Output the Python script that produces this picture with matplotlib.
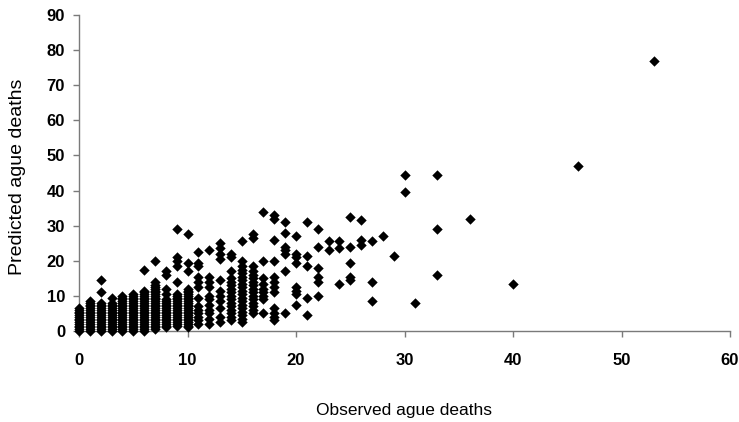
import matplotlib
matplotlib.use("Agg")
import matplotlib.pyplot as plt

# Predicted ague deaths, grouped by observed ague deaths
pred_0 = [0, 0.5, 1, 1.5, 2, 2.5, 3, 3.5, 4, 4.5, 5, 5.5, 6, 6.5]
pred_1 = [0, 0.5, 1, 1.5, 2, 2.5, 3, 3.5, 4, 4.5, 5, 5.5, 6, 6.5, 7, 7.5, 8, 8.5]
pred_2 = [0, 0.5, 1, 1.5, 2, 2.5, 3, 3.5, 4, 4.5, 5, 5.5, 6, 6.5, 7, 7.5, 8, 11, 14.5]
pred_3 = [0, 0.5, 1, 1.5, 2, 2.5, 3, 3.5, 4, 4.5, 5, 5.5, 6, 6.5, 7, 7.5, 8, 9.5]
pred_4 = [0, 0.5, 1, 1.5, 2, 2.5, 3, 3.5, 4, 4.5, 5, 5.5, 6, 6.5, 7, 7.5, 8, 8.5, 9, 9.5, 10]
pred_5 = [0, 0.5, 1, 1.5, 2, 2.5, 3, 3.5, 4, 4.5, 5, 5.5, 6, 6.5, 7, 7.5, 8, 8.5, 9, 9.5, 10, 10.5]
pred_6 = [0, 0.5, 1, 1.5, 2, 2.5, 3, 3.5, 4, 4.5, 5, 5.5, 6, 6.5, 7, 7.5, 8, 8.5, 9, 9.5, 10,
          10.5, 11, 11.5, 17.5]
pred_7 = [0.5, 1, 1.5, 2, 2.5, 3, 3.5, 4, 4.5, 5, 5.5, 6, 6.5, 7, 7.5, 8, 8.5, 9, 9.5, 10,
          10.5, 11, 11.5, 12, 12.5, 13, 14, 20]
pred_8 = [1, 1.5, 2, 2.5, 3, 3.5, 4, 4.5, 5, 5.5, 6, 6.5, 7, 7.5, 8, 8.5, 9, 10.5, 12, 16, 17]
pred_9 = [1.5, 2, 2.5, 3, 3.5, 4, 4.5, 5, 5.5, 6, 6.5, 7, 7.5, 8, 8.5, 9, 9.5, 10, 10.5,
          14, 18.5, 20, 21, 29]
pred_10 = [1, 1.5, 2, 2.5, 3, 3.5, 4, 4.5, 5, 5.5, 6, 6.5, 7, 7.5, 8, 8.5, 9, 9.5, 10, 10.5,
           11, 11.5, 12, 17, 19.5, 27.5]
pred_11 = [2, 3, 4, 5, 6, 7, 9.5, 12.5, 14, 15.5, 18.5, 19.5, 22.5]
pred_12 = [2, 3.5, 5, 6, 7.5, 9, 10, 12.5, 14, 15.5, 23]
pred_13 = [2.5, 4, 6.5, 8.5, 10, 11.5, 14.5, 20.5, 22, 23.5, 25]
pred_14 = [3, 4, 5, 6, 7, 8, 9, 10, 11, 12, 13, 14, 15, 17, 21, 22]
pred_15 = [2.5, 3.5, 4.5, 5.5, 6.5, 7.5, 8.5, 9.5, 10.5, 11.5, 12.5, 13.5, 14.5, 15.5,
           16.5, 17.5, 18.5, 20, 25.5]
pred_16 = [5, 6, 7, 8, 9, 10, 11, 12, 13, 14, 15, 16, 17, 18.5, 26.5, 27.5]
pred_17 = [5, 9, 10, 11, 12, 13.5, 15, 20, 34]
pred_18 = [3, 4, 5, 6.5, 11, 12.5, 14, 15.5, 20, 26, 32, 33]
pred_19 = [5, 17, 22, 23, 24, 28, 31]
pred_20 = [7.5, 10.5, 11.5, 12.5, 19.5, 21, 22, 27]
pred_21 = [4.5, 9.5, 18.5, 21.5, 31]
pred_22 = [10, 14, 15.5, 18, 24, 29]
pred_23 = [23, 25.5]
pred_24 = [13.5, 23.5, 25.5]
pred_25 = [14.5, 15.5, 19.5, 24, 32.5]
pred_26 = [24.5, 26, 31.5]
pred_27 = [8.5, 14, 25.5]
pred_28 = [27]
pred_29 = [21.5]
pred_30 = [39.5, 44.5]
pred_31 = [8]
pred_33 = [16, 29, 44.5]
pred_36 = [32]
pred_40 = [13.5]
pred_46 = [47]
pred_53 = [77]

obs_levels = [0, 1, 2, 3, 4, 5, 6, 7, 8, 9, 10, 11, 12, 13, 14, 15, 16, 17, 18, 19, 20,
              21, 22, 23, 24, 25, 26, 27, 28, 29, 30, 31, 33, 36, 40, 46, 53]
pred_groups = [pred_0, pred_1, pred_2, pred_3, pred_4, pred_5, pred_6, pred_7, pred_8,
               pred_9, pred_10, pred_11, pred_12, pred_13, pred_14, pred_15, pred_16,
               pred_17, pred_18, pred_19, pred_20, pred_21, pred_22, pred_23, pred_24,
               pred_25, pred_26, pred_27, pred_28, pred_29, pred_30, pred_31, pred_33,
               pred_36, pred_40, pred_46, pred_53]

x_ticks = [0, 10, 20, 30, 40, 50, 60]
y_ticks = [0, 10, 20, 30, 40, 50, 60, 70, 80, 90]
x_label = "Observed ague deaths"
y_label = "Predicted ague deaths"

observed = []
predicted = []
for obs, preds in zip(obs_levels, pred_groups):
    for p in preds:
        observed.append(obs)
        predicted.append(p)

plt.rcParams['font.family'] = ['Liberation Sans', 'DejaVu Sans']

fig = plt.figure(figsize=(7.39, 4.22), dpi=100)
ax = fig.add_axes([79 / 739, 1 - 331 / 422, (730 - 79) / 739, (331 - 15) / 422])

ax.scatter(observed, predicted, marker='D', s=28, color='black', linewidths=0, zorder=3, clip_on=False)

ax.set_xlim(0, 60)
ax.set_ylim(0, 90)
ax.set_xticks(x_ticks)
ax.set_yticks(y_ticks)

for side in ['top', 'right']:
    ax.spines[side].set_visible(False)
for side in ['left', 'bottom']:
    ax.spines[side].set_color('#7a7a7a')
    ax.spines[side].set_linewidth(1.0)

ax.tick_params(axis='both', direction='out', length=4, width=1.0, color='#7a7a7a',
               labelsize=12, labelcolor='black')
ax.tick_params(axis='x', pad=12)
ax.tick_params(axis='y', pad=6)
for lab in ax.get_xticklabels() + ax.get_yticklabels():
    lab.set_fontweight('bold')

fig.text(404 / 739, 1 - 410 / 422, x_label, ha='center', va='center', fontsize=12.5)
fig.text(18 / 739, 1 - 177 / 422, y_label, ha='center', va='center', fontsize=14, rotation=90)

fig.savefig("out.png", dpi=100, facecolor='white')
